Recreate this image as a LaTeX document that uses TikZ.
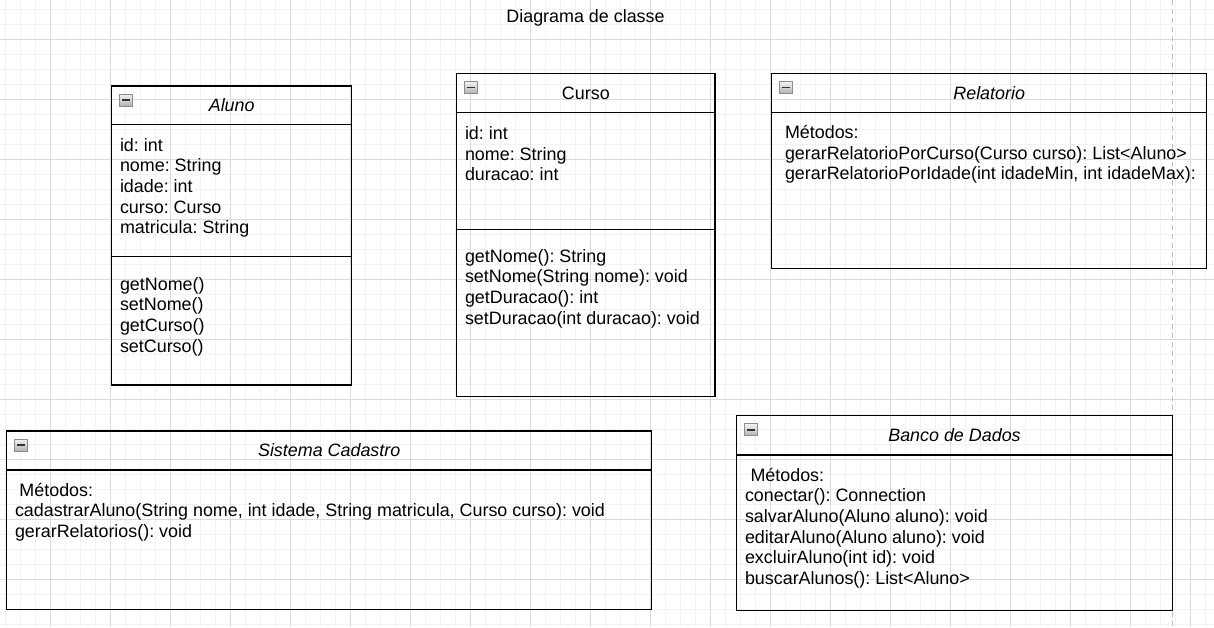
\documentclass[tikz,border=0pt]{standalone}
\usepackage{fontspec}
\setmainfont{Liberation Sans}
\frenchspacing
\usetikzlibrary{positioning}

\begin{document}
\begin{tikzpicture}[
  x=1pt, y=-1pt,
  every node/.style={inner sep=0pt, outer sep=0pt,
   font=\fontsize{17.9}{20.7}\selectfont},
  gridminor/.style={draw=black!5, line width=0.8pt},
  gridmajor/.style={draw=black!14, line width=0.8pt},
  pagebreak/.style={draw=black!25, line width=1pt, dash pattern=on 5pt off 4pt},
  classhead/.style={draw, line width=1.3pt, anchor=north west},
  compart/.style={draw, line width=1.3pt},
  member/.style={anchor=base west},
  minusbox/.style={draw=black!45, line width=0.6pt, top color=black!5,
   bottom color=black!30, minimum width=13pt, minimum height=12pt,
   path picture={\draw[line width=1.6pt, black!80]
     ([xshift=2.5pt]path picture bounding box.west) --
     ([xshift=-2.5pt]path picture bounding box.east);}}
  ]
  \useasboundingbox (0,0) rectangle (1214,627);
  \fill[white] (0,0) rectangle (1214,627);

  % background grid
  \foreach \gx in {5,20,...,1205} \draw[gridminor] (\gx,0) -- (\gx,627);
  \foreach \gy in {9,24,...,624} \draw[gridminor] (0,\gy) -- (1214,\gy);
  \foreach \gx in {50,110,...,1190} \draw[gridmajor] (\gx,0) -- (\gx,627);
  \foreach \gy in {39,99,...,579} \draw[gridmajor] (0,\gy) -- (1214,\gy);
  \draw[pagebreak] (1172,0) -- (1172,627);

  \node[anchor=base] (diagTitle) at (585.5,22.7) {Diagrama de classe};

  % Aluno
  \node[classhead, minimum width=240, minimum height=38.3] (alunoHead) at (111.7,86) {\itshape Aluno};
  \node[compart, minimum width=240, minimum height=132.4, below=0pt of alunoHead] (alunoAttrs) {};
  \node[compart, minimum width=240, minimum height=128.3, below=0pt of alunoAttrs] (alunoOps) {};
  \node[minusbox, below right=8pt and 7.5pt of alunoHead.north west] (alunoMinus) {};
  \foreach \txt [count=\i from 0] in {id: int, nome: String, idade: int, curso: Curso, matricula: String}
   \node[member] (alunoAttr\i) at (120,{151+20.7*\i}) {\txt};
  \foreach \txt [count=\i from 0] in {getNome(), setNome(), getCurso(), setCurso()}
   \node[member] (alunoOp\i) at (120,{290+20.7*\i}) {\txt};

  % Curso
  \node[classhead, minimum width=258.3, minimum height=39.2] (cursoHead) at (456.7,73.5) {Curso};
  \node[compart, minimum width=258.3, minimum height=116.6, below=0pt of cursoHead] (cursoAttrs) {};
  \node[compart, minimum width=258.3, minimum height=167.4, below=0pt of cursoAttrs] (cursoOps) {};
  \node[minusbox, below right=8pt and 7.5pt of cursoHead.north west] (cursoMinus) {};
  \foreach \txt [count=\i from 0] in {id: int, nome: String, duracao: int}
   \node[member] (cursoAttr\i) at (465,{139.4+20.7*\i}) {\txt};
  \foreach \txt [count=\i from 0] in {getNome(): String, setNome(String nome): void, getDuracao(): int, setDuracao(int duracao): void}
   \node[member] (cursoOp\i) at (465,{262+20.7*\i}) {\txt};

  % Relatorio
  \node[classhead, minimum width=435, minimum height=39] (relHead) at (771.7,73.5) {\itshape Relatorio};
  \node[compart, minimum width=435, minimum height=155.8, below=0pt of relHead] (relOps) {};
  \node[minusbox, below right=8pt and 7.5pt of relHead.north west] (relMinus) {};
  \foreach \txt [count=\i from 0] in {Métodos:, {gerarRelatorioPorCurso(Curso curso): List<Aluno>}, {gerarRelatorioPorIdade(int idadeMin, int idadeMax):}}
   \node[member] (relOp\i) at (785,{138.3+20.7*\i}) {\txt};

  % Sistema Cadastro
  \node[classhead, minimum width=645, minimum height=39] (sisHead) at (6.7,431) {\itshape Sistema Cadastro};
  \node[compart, minimum width=645, minimum height=139.3, below=0pt of sisHead] (sisOps) {};
  \node[minusbox, below right=8pt and 7.5pt of sisHead.north west] (sisMinus) {};
  \node[member] (sisLabel) at (19.5,496) {Métodos:};
  \foreach \txt [count=\i from 1] in {{cadastrarAluno(String nome, int idade, String matricula, Curso curso): void}, gerarRelatorios(): void}
   \node[member] (sisOp\i) at (15,{496+20.7*\i}) {\txt};

  % Banco de Dados
  \node[classhead, minimum width=435.6, minimum height=39.3] (bdHead) at (736.7,415.7) {\itshape Banco de Dados};
  \node[compart, minimum width=435.6, minimum height=155.7, below=0pt of bdHead] (bdOps) {};
  \node[minusbox, below right=8pt and 7.5pt of bdHead.north west] (bdMinus) {};
  \node[member] (bdLabel) at (750.5,481) {Métodos:};
  \foreach \txt [count=\i from 1] in {conectar(): Connection, salvarAluno(Aluno aluno): void, editarAluno(Aluno aluno): void, excluirAluno(int id): void, buscarAlunos(): List<Aluno>}
   \node[member] (bdOp\i) at (745,{481+20.7*\i}) {\txt};
\end{tikzpicture}
\end{document}
